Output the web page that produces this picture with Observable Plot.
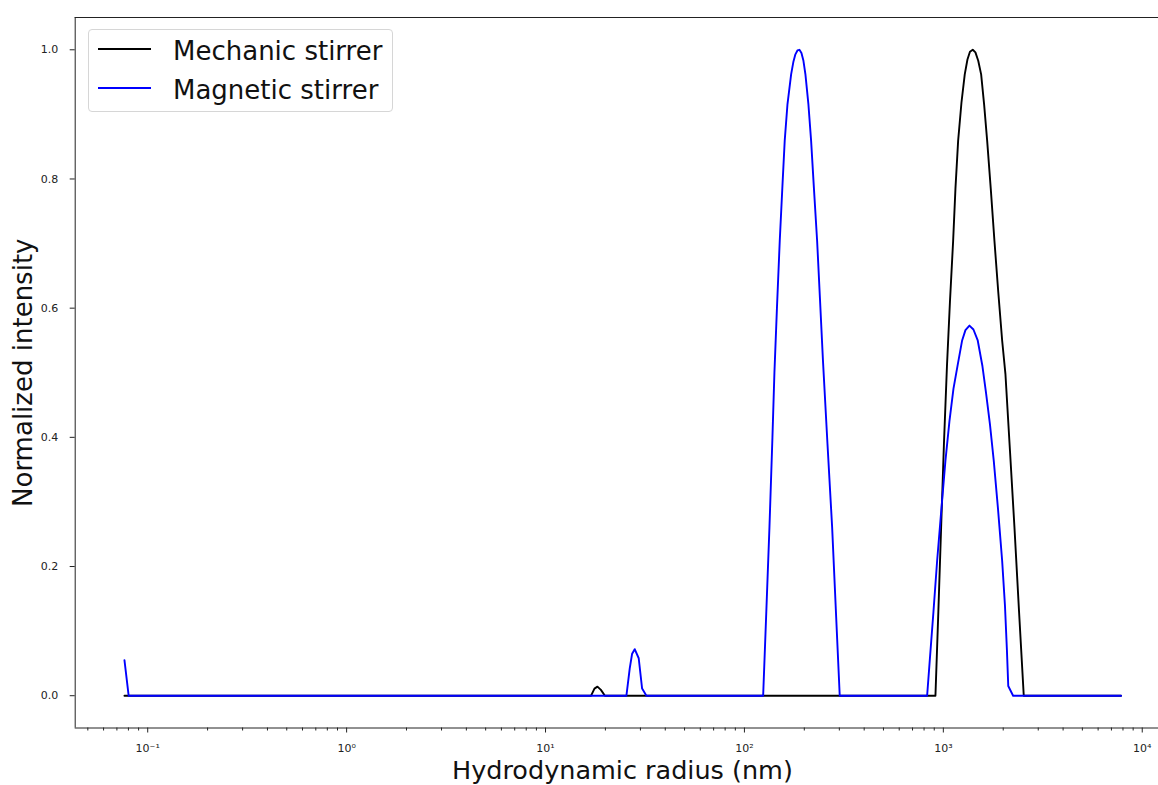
<!DOCTYPE html>
<html>
<head>
<meta charset="utf-8">
<script src="https://cdn.jsdelivr.net/npm/d3@7"></script>
<script src="https://cdn.jsdelivr.net/npm/@observablehq/plot@0.6"></script>
<style>
  html, body { margin: 0; padding: 0; background: #fff; overflow: hidden; }
  #wrap { position: relative; width: 1158px; height: 785px; font-family: "DejaVu Sans", sans-serif; }
  .legend { position: absolute; left: 88px; top: 29px; width: 303px; height: 81px;
            border: 1px solid #d6d6d6; border-radius: 4px; background: rgba(255,255,255,0.85); }
  .legend .row { position: absolute; left: 0; height: 30px; width: 100%; }
  .legend svg { position: absolute; left: 9px; top: 10px; }
  .legend .name { position: absolute; left: 84px; top: 0; font-size: 26px; line-height: 30px; color: #111; white-space: nowrap; }
</style>
</head>
<body>
<div id="wrap"></div>
<script>
// Hydrodynamic radius distributions (nm) and normalized intensities
const mechanicRadius = [0.0764, 16.95, 17.62, 18.24, 18.99, 19.89,
  912.6, 943.8, 974.8, 1007, 1042.7, 1079.5, 1120, 1150.5, 1186.7, 1233.2, 1281.3, 1321.9, 1360.7,
  1405.6, 1450, 1497.8, 1549, 1603.6, 1661, 1731.4, 1807, 1888.4, 1975.5, 2052, 2162, 2277.5, 2402.4, 2537,
  7824];
const mechanicIntensity = [0, 0, 0.011, 0.014, 0.009, 0,
  0, 0.13, 0.261, 0.39, 0.51, 0.61, 0.704, 0.785, 0.859, 0.918, 0.962, 0.985, 0.997,
  1.0, 0.996, 0.983, 0.962, 0.915, 0.859, 0.785, 0.704, 0.625, 0.55, 0.498, 0.38, 0.261, 0.13, 0,
  0];

const magneticRadius = [0.0764, 0.0802,
  25.51, 26.5, 27.25, 28.08, 29.41, 30.59, 32.16,
  124.2, 129.0, 133.6, 138.3, 141.5, 145.7, 150.5, 155.3, 159.4, 164.5, 171.7, 176.4, 180.4, 184.7,
  189.0, 193.5, 198.0, 202.6, 209.8, 216.4, 223.6, 232.0, 239.7, 248.1, 261.5, 276.0, 288.4, 301.4,
  828.9, 854.2, 891.9, 930.7, 978.3, 1024.6, 1073.3, 1124.1, 1177.2, 1243, 1291.6, 1352.8, 1416.9,
  1489.1, 1572.7, 1637.4, 1715.5, 1792.4, 1881.9, 1975.5, 2040.5, 2088, 2120, 2243,
  7824];
const magneticIntensity = [0.055, 0,
  0, 0.042, 0.065, 0.072, 0.058, 0.011, 0,
  0, 0.135, 0.261, 0.40, 0.50, 0.60, 0.704, 0.79, 0.859, 0.915, 0.962, 0.982, 0.993, 0.999,
  1.0, 0.995, 0.983, 0.962, 0.915, 0.859, 0.785, 0.704, 0.615, 0.52, 0.39, 0.261, 0.13, 0,
  0, 0.054, 0.13, 0.209, 0.29, 0.364, 0.425, 0.475, 0.51, 0.55, 0.566, 0.573, 0.567,
  0.55, 0.51, 0.47, 0.42, 0.364, 0.29, 0.209, 0.14, 0.07, 0.015, 0,
  0];

const seriesNames = ["Mechanic stirrer", "Magnetic stirrer"];
const seriesColors = ["#000000", "#0000ff"];

// Axis settings
const xDomain = [0.0432, 12070];
const yDomain = [-0.05, 1.05];
const xMajorTicks = [0.1, 1, 10, 100, 1000, 10000];
const xTickLabels = ["10⁻¹", "10⁰", "10¹", "10²", "10³", "10⁴"];
const minorMultipliers = [2, 3, 4, 5, 6, 7, 8, 9];
const minorDecades = [0.01, 0.1, 1, 10, 100, 1000, 10000];
const yTicks = [0, 0.2, 0.4, 0.6, 0.8, 1.0];
const yTickLabels = ["0.0", "0.2", "0.4", "0.6", "0.8", "1.0"];
const xLabel = "Hydrodynamic radius (nm)";
const yLabel = "Normalized intensity";

const xMinorTicks = minorDecades.flatMap(d => minorMultipliers.map(m => m * d))
  .filter(v => v >= xDomain[0] && v <= xDomain[1]);

const rows = [
  ...mechanicRadius.map((r, i) => ({series: seriesNames[0], r, v: mechanicIntensity[i]})),
  ...magneticRadius.map((r, i) => ({series: seriesNames[1], r, v: magneticIntensity[i]}))
];

const ink = "#222";
const lineWidth = 1.9;
const chart = Plot.plot({
  width: 1158,
  height: 785,
  marginLeft: 74.7,
  marginRight: 0,
  marginTop: 17,
  marginBottom: 57.5,
  style: {fontFamily: "DejaVu Sans, sans-serif", fontSize: "11px", color: ink, background: "#fff"},
  x: {type: "log", domain: xDomain},
  y: {domain: yDomain},
  color: {domain: seriesNames, range: seriesColors},
  marks: [
    Plot.axisX({ticks: xMinorTicks, tickSize: 3, tickFormat: () => "", label: null}),
    Plot.axisX({ticks: xMajorTicks, tickSize: 5, tickPadding: 11,
      tickFormat: d => xTickLabels[xMajorTicks.indexOf(d)], label: null}),
    Plot.axisY({ticks: yTicks, tickSize: 5, tickPadding: 12,
      tickFormat: d => yTickLabels[yTicks.indexOf(d)], label: null}),
    // axes box (top, bottom, left)
    Plot.ruleY([yDomain[1]], {stroke: ink, strokeWidth: 1}),
    Plot.ruleY([yDomain[0]], {stroke: ink, strokeWidth: 1}),
    Plot.ruleX([xDomain[0]], {stroke: ink, strokeWidth: 1}),
    Plot.line(rows, {x: "r", y: "v", z: "series", stroke: "series", strokeWidth: lineWidth,
      strokeLinejoin: "round"}),
    Plot.text([xLabel], {frameAnchor: "bottom", textAnchor: "middle", lineAnchor: "top",
      dy: 32.5, dx: 5.6, fontSize: 25.5, fill: "#111"}),
    Plot.text([yLabel], {frameAnchor: "left", textAnchor: "middle", rotate: -90, lineAnchor: "top",
      dx: -61.2, fontSize: 26, fill: "#111"})
  ]
});

const wrap = document.getElementById("wrap");
wrap.appendChild(chart);

// Legend box in the upper left of the axes
const legend = d3.select(wrap).append("div").attr("class", "legend");
seriesNames.forEach((name, i) => {
  const row = legend.append("div").attr("class", "row").style("top", (5 + i * 39) + "px");
  row.append("svg").attr("width", 54).attr("height", 8)
    .append("line")
    .attr("x1", 0).attr("x2", 53).attr("y1", 4).attr("y2", 4)
    .attr("stroke", seriesColors[i]).attr("stroke-width", lineWidth);
  row.append("div").attr("class", "name").style("top", "1px").text(name);
});
</script>
</body>
</html>
